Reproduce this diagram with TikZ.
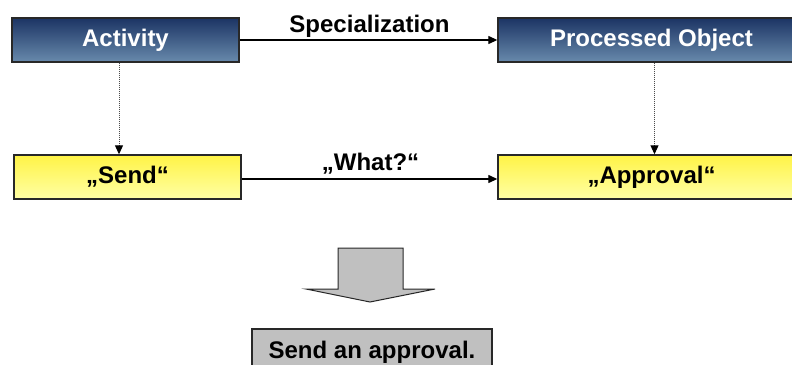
\documentclass[tikz,border=0pt]{standalone}
\usepackage{fontspec}
\setmainfont{Liberation Sans}
\usetikzlibrary{arrows.meta,calc}
\definecolor{bluetop}{RGB}{28,52,100}
\definecolor{bluebot}{RGB}{104,138,172}
\definecolor{yeltop}{RGB}{255,243,70}
\definecolor{yelbot}{RGB}{255,255,165}
\definecolor{boxgray}{RGB}{192,192,192}
\definecolor{edgegray}{RGB}{40,40,40}
\tikzset{
  bluebox/.style={draw=edgegray, line width=1.4pt, top color=bluetop, bottom color=bluebot,
    text=white, font=\fontsize{24}{28}\selectfont\bfseries, inner sep=0pt},
  yelbox/.style={draw=edgegray, line width=1.4pt, top color=yeltop, bottom color=yelbot,
    text=black, font=\fontsize{24}{28}\selectfont\bfseries, inner sep=0pt},
  graybox/.style={draw=edgegray, line width=1.4pt, fill=boxgray,
    text=black, font=\fontsize{24}{28}\selectfont\bfseries, inner sep=0pt},
  lbl/.style={font=\fontsize{24}{28}\selectfont\bfseries, inner sep=0pt, anchor=base},
  solidarrow/.style={line width=1.3pt, -{Triangle[length=9pt,width=8pt]}},
  dotarrow/.style={line width=1pt, draw=black!70, dash pattern=on 1pt off 1pt,
    -{Triangle[length=9pt,width=8pt,fill=black,color=black]}},
}
\begin{document}
\begin{tikzpicture}[x=1pt,y=-1pt]
\useasboundingbox (0,0) rectangle (792,364);
\begin{scope}
\clip (0,0) rectangle (792,364);
\node[bluebox, minimum width=227pt, minimum height=44pt] (act) at (125.5,40) {Activity};
\node[bluebox, minimum width=307pt, minimum height=44pt] (proc) at (651.5,40) {Processed Object};
\node[yelbox, minimum width=227pt, minimum height=44pt] (send) at (127.5,177) {„Send“};
\node[yelbox, minimum width=307pt, minimum height=44pt] (appr) at (651.5,177) {„Approval“};
\node[graybox, minimum width=240pt, minimum height=46pt] (res) at (372,352) {Send an approval.};

\draw[solidarrow] (act.east) -- (proc.west) node[lbl, midway, yshift=8pt, xshift=1pt] (spec) {Specialization};
\draw[solidarrow] ($(send.east)+(0,2)$) coordinate (s1) -- (s1 -| appr.west)
  node[lbl, midway, yshift=9pt, xshift=1pt] (what) {„What?“};

\coordinate (a1) at ($(act.south)+(-6.5,0)$);
\draw[dotarrow] (a1) -- (a1 |- send.north);
\coordinate (p1) at ($(proc.south)+(3,0)$);
\draw[dotarrow] (p1) -- (p1 |- appr.north);

\draw[draw=edgegray, line width=1pt, fill=boxgray]
  (338,248) -- (403,248) -- (403,289) -- (435,289) -- (370,302) -- (306,289) -- (338,289) -- cycle;
\end{scope}
\end{tikzpicture}
\end{document}
